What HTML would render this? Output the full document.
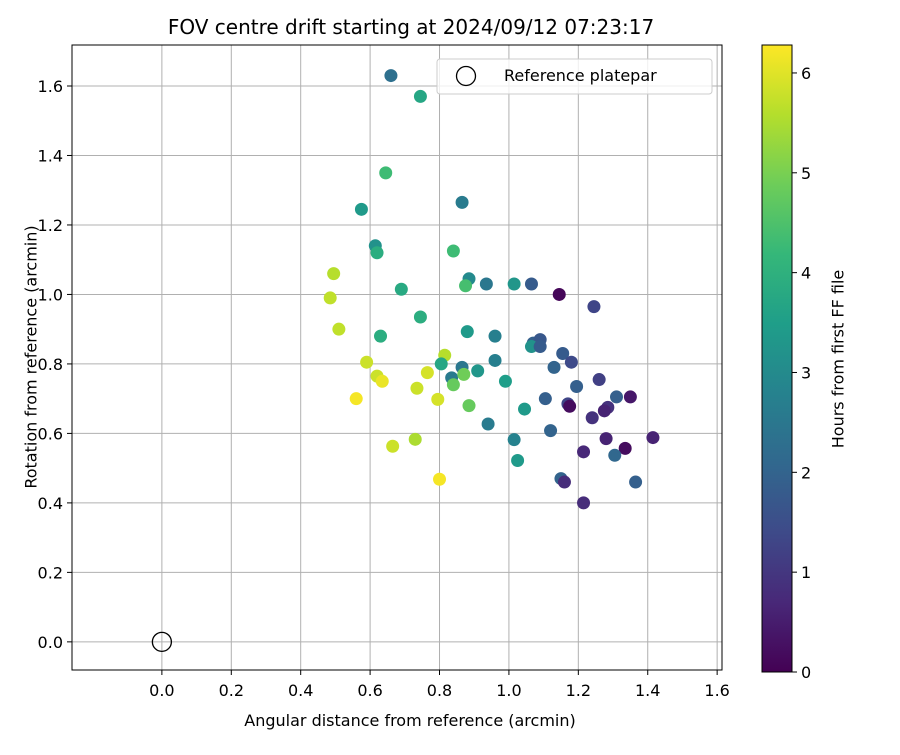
<!DOCTYPE html>
<html><head><meta charset="utf-8"><style>
body{margin:0;background:#fff;font-family:"Liberation Sans","DejaVu Sans",sans-serif}
text{font-family:"DejaVu Sans","Liberation Sans",sans-serif}
</style></head><body>
<svg id="c" width="900" height="750" xmlns="http://www.w3.org/2000/svg"></svg>
<script>
const xs=[0.66,0.745,0.645,0.575,0.865,0.615,0.62,0.84,0.495,0.885,0.935,1.015,1.065,0.485,0.69,0.875,1.145,1.245,0.745,0.51,0.63,0.88,0.96,1.07,1.09,1.065,1.09,1.155,1.18,0.96,0.815,0.805,0.59,1.13,0.865,0.91,0.835,0.87,0.62,0.635,0.765,1.26,0.99,0.84,1.195,0.735,1.31,1.35,1.105,0.56,0.795,1.17,1.175,0.885,1.045,1.285,1.275,1.24,0.94,1.12,1.28,1.415,1.335,1.015,0.665,0.73,1.215,1.305,1.025,1.15,1.16,1.365,0.80,1.215];
const ys=[1.63,1.57,1.35,1.245,1.265,1.14,1.12,1.125,1.06,1.045,1.03,1.03,1.03,0.99,1.015,1.025,1.0,0.965,0.935,0.90,0.88,0.893,0.88,0.86,0.87,0.85,0.85,0.83,0.805,0.81,0.825,0.80,0.805,0.79,0.79,0.78,0.76,0.77,0.765,0.75,0.775,0.755,0.75,0.74,0.735,0.73,0.705,0.705,0.70,0.70,0.698,0.685,0.678,0.68,0.67,0.675,0.665,0.645,0.627,0.608,0.585,0.588,0.557,0.582,0.563,0.583,0.547,0.537,0.522,0.47,0.46,0.46,0.468,0.40];
const hours=[2.3,3.7,4.3,3.4,2.6,3.2,3.9,4.3,5.6,3.0,2.5,3.3,1.8,5.7,3.8,4.4,0.1,1.3,3.9,5.7,3.9,3.4,2.7,1.9,1.7,3.2,1.8,1.8,1.4,2.7,5.6,3.7,5.8,2.0,2.5,3.3,2.6,4.9,5.8,6.1,5.9,1.2,3.5,4.8,1.9,5.8,1.9,0.4,1.9,6.2,5.9,1.3,0.2,4.8,3.4,0.9,0.6,0.9,2.6,2.0,0.6,0.6,0.2,2.8,5.8,5.5,0.7,2.1,3.4,2.0,0.8,1.9,6.2,0.8];
const xTicks=["0.0","0.2","0.4","0.6","0.8","1.0","1.2","1.4","1.6"];
const yTicks=["0.0","0.2","0.4","0.6","0.8","1.0","1.2","1.4","1.6"];
const cTicks=["0","1","2","3","4","5","6"];
const L=72,R=722,T=45,B=670,xmin=-0.259,xmax=1.614,ymin=-0.081,ymax=1.718,hmax=6.28;
const X=v=>L+(v-xmin)/(xmax-xmin)*(R-L);
const Y=v=>B-(v-ymin)/(ymax-ymin)*(B-T);
const vir=[[68,1,84],[72,40,120],[62,74,137],[49,104,142],[38,130,142],[31,158,137],[53,183,121],[109,205,89],[180,222,44],[253,231,37]];
function col(h){let t=Math.max(0,Math.min(1,h/hmax))*(vir.length-1);let i=Math.min(Math.floor(t),vir.length-2),f=t-i;const c=vir[i].map((a,k)=>Math.round(a+(vir[i+1][k]-a)*f));return `rgb(${c})`;}
const s=document.getElementById('c');const NS='http://www.w3.org/2000/svg';
function el(tag,a,p){const e=document.createElementNS(NS,tag);for(const k in a)e.setAttribute(k,a[k]);(p||s).appendChild(e);return e;}
xTicks.forEach(t=>{const x=X(+t);
const g=el('line',{x1:x,x2:x,y1:T,y2:B,stroke:'#b0b0b0','stroke-width':1});


el('line',{x1:x,x2:x,y1:B,y2:B+5,stroke:'#000'});
const tx=el('text',{x:x,y:B+26,'text-anchor':'middle','font-size':16});tx.textContent=t;

});
yTicks.forEach(t=>{const y=Y(+t);
const g=el('line',{x1:L,x2:R,y1:y,y2:y,stroke:'#b0b0b0','stroke-width':1});


el('line',{x1:L-5,x2:L,y1:y,y2:y,stroke:'#000'});
const tx=el('text',{x:L-9,y:y+6,'text-anchor':'end','font-size':16});tx.textContent=t;

});
xs.forEach((v,i)=>{const c=el('circle',{cx:X(v),cy:Y(ys[i]),r:6.5,fill:col(hours[i])});

});
const ref=el('circle',{cx:X(0),cy:Y(0),r:9.5,fill:'none',stroke:'#000','stroke-width':1.3});


const fr=el('rect',{x:L,y:T,width:R-L,height:B-T,fill:'none',stroke:'#000','stroke-width':1});


const lg=el('g',{});


el('rect',{x:437,y:59,width:275,height:35,rx:3,fill:'rgba(255,255,255,0.8)',stroke:'#ccc'},lg);
el('circle',{cx:466,cy:76,r:9.5,fill:'none',stroke:'#000','stroke-width':1.3},lg);
const lt=el('text',{x:504,y:81,'font-size':16},lg);lt.textContent='Reference platepar';
const CL=762,CR=792,CT=45,CB=672;
const defs=el('defs',{});const gr=el('linearGradient',{id:'vg',x1:0,y1:1,x2:0,y2:0},defs);
vir.forEach((c,i)=>el('stop',{offset:i/(vir.length-1),'stop-color':`rgb(${c})`},gr));
const cb=el('rect',{x:CL,y:CT,width:CR-CL,height:CB-CT,fill:'url(#vg)',stroke:'#000','stroke-width':1});


cTicks.forEach(t=>{const y=CB-(+t)/hmax*(CB-CT);
el('line',{x1:CR,x2:CR+5,y1:y,y2:y,stroke:'#000'});
const tx=el('text',{x:CR+9,y:y+6,'font-size':16});tx.textContent=t;

});
</script>
<div style="position:absolute;left:0;top:0;width:900px;height:750px;pointer-events:none">
<div style="position:absolute;left:0;width:822px;top:15px;text-align:center;font:20px 'DejaVu Sans','Liberation Sans',sans-serif">FOV centre drift starting at 2024/09/12 07:23:17</div>
<div style="position:absolute;left:72px;width:676px;top:711px;text-align:center;font:16px 'DejaVu Sans','Liberation Sans',sans-serif">Angular distance from reference (arcmin)</div>
<div style="position:absolute;left:31px;top:357px;width:0;height:0"><div style="position:absolute;transform:translate(-50%,-50%) rotate(-90deg);white-space:nowrap;font:16px 'DejaVu Sans','Liberation Sans',sans-serif">Rotation from reference (arcmin)</div></div>
<div style="position:absolute;left:838px;top:359px;width:0;height:0"><div style="position:absolute;transform:translate(-50%,-50%) rotate(-90deg);white-space:nowrap;font:16px 'DejaVu Sans','Liberation Sans',sans-serif">Hours from first FF file</div></div>
</div>
</body></html>
